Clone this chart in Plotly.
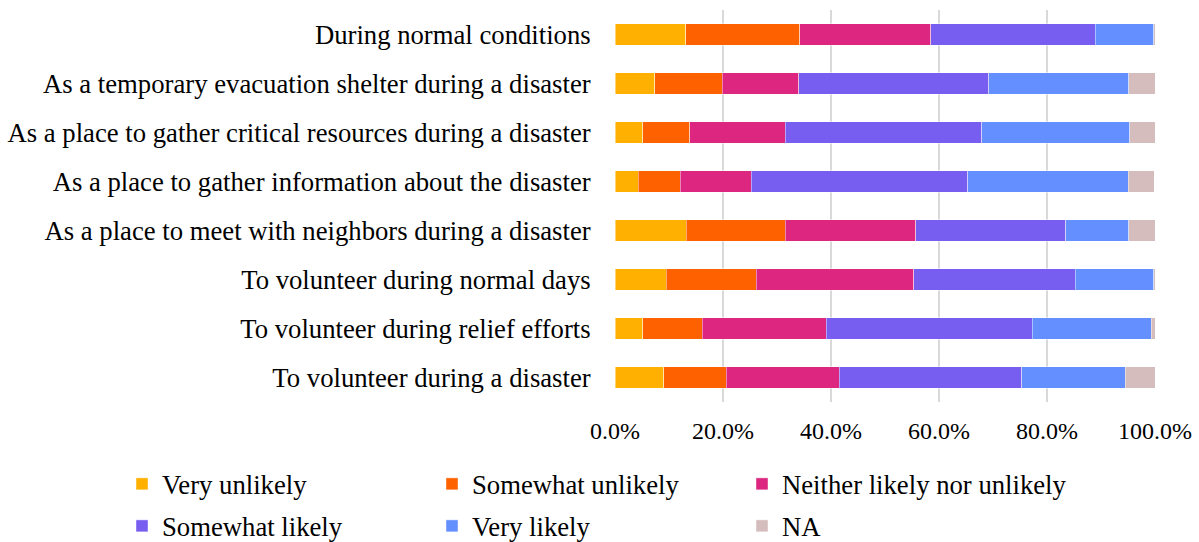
import plotly.graph_objects as go

# Survey items, listed top to bottom
categories = [
    "During normal conditions",
    "As a temporary evacuation shelter during a disaster",
    "As a place to gather critical resources during a disaster",
    "As a place to gather information about the disaster",
    "As a place to meet with neighbors during a disaster",
    "To volunteer during normal days",
    "To volunteer during relief efforts",
    "To volunteer during a disaster",
]

# Share of responses (%) per answer, one value per item above
very_unlikely = [13.1, 7.4, 5.1, 4.3, 13.2, 9.5, 5.1, 9.0]
somewhat_unlikely = [21.1, 12.5, 8.7, 7.8, 18.3, 16.7, 11.1, 11.6]
neither = [24.3, 14.1, 17.7, 13.1, 24.2, 29.1, 22.9, 20.9]
somewhat_likely = [30.4, 35.2, 36.4, 40.1, 27.8, 29.9, 38.2, 33.8]
very_likely = [10.9, 25.9, 27.4, 29.7, 11.6, 14.6, 22.0, 19.2]
not_applicable = [0.2, 4.9, 4.7, 4.9, 4.9, 0.2, 0.7, 5.5]

answer_labels = [
    "Very unlikely",
    "Somewhat unlikely",
    "Neither likely nor unlikely",
    "Somewhat likely",
    "Very likely",
    "NA",
]
answer_values = [very_unlikely, somewhat_unlikely, neither,
                 somewhat_likely, very_likely, not_applicable]
answer_colors = ["#FFB000", "#FE6100", "#DC267F", "#785EF0", "#648FFF", "#D5BDBD"]

x_ticks = [0, 20, 40, 60, 80, 100]
x_tick_text = ["0.0%", "20.0%", "40.0%", "60.0%", "80.0%", "100.0%"]

FONT = "Liberation Serif, Times New Roman, serif"

# plot area geometry in pixels
W, H = 1199, 542
L, R, T, B = 615, 44, 10, 140
PW, PH = W - L - R, H - T - B

# legend grid: 3 columns x 2 rows below the axis
LEGEND_COLS_PX = [122, 432, 742]
LEGEND_ROWS_PX = [484, 526]


def paper_x(px):
    return (px - L) / PW


def paper_y(py):
    return (H - B - py) / PH


fig = go.Figure()
legend_layouts = {}
for i, (label, vals, color) in enumerate(zip(answer_labels, answer_values, answer_colors)):
    legend_id = "legend" if i == 0 else f"legend{i + 1}"
    fig.add_trace(go.Bar(
        y=categories,
        x=vals,
        name=label,
        orientation="h",
        marker=dict(color=color, line=dict(color="rgba(255,255,255,0.55)", width=0.8)),
        legend=legend_id,
        hovertemplate="%{y}<br>" + label + ": %{x:.1f}%<extra></extra>",
    ))
    legend_layouts[legend_id] = dict(
        orientation="h",
        xanchor="left",
        yanchor="middle",
        x=paper_x(LEGEND_COLS_PX[i % 3]),
        y=paper_y(LEGEND_ROWS_PX[i // 3]),
        font=dict(family=FONT, size=26.7, color="#000"),
        bgcolor="rgba(0,0,0,0)",
        itemclick=False,
        itemdoubleclick=False,
    )

fig.update_layout(
    width=W,
    height=H,
    barmode="stack",
    bargap=0.57,
    plot_bgcolor="white",
    paper_bgcolor="white",
    margin=dict(l=L, r=R, t=T, b=B, autoexpand=False),
    font=dict(family=FONT, size=26.7, color="#000"),
    xaxis=dict(
        range=[0, 100],
        tickvals=x_ticks,
        ticktext=x_tick_text,
        showgrid=True,
        gridcolor="#D9D9D9",
        gridwidth=1.5,
        zeroline=False,
        showline=False,
        ticks="outside",
        ticklen=7,
        tickcolor="rgba(0,0,0,0)",
        tickfont=dict(family=FONT, size=24, color="#000"),
        fixedrange=True,
    ),
    yaxis=dict(
        categoryorder="array",
        categoryarray=categories,
        autorange="reversed",
        showgrid=False,
        showline=False,
        ticks="outside",
        ticklen=18,
        tickcolor="rgba(0,0,0,0)",
        tickfont=dict(family=FONT, size=26.7, color="#000"),
        fixedrange=True,
    ),
    showlegend=True,
    **legend_layouts,
)

fig.write_html("out.html")
